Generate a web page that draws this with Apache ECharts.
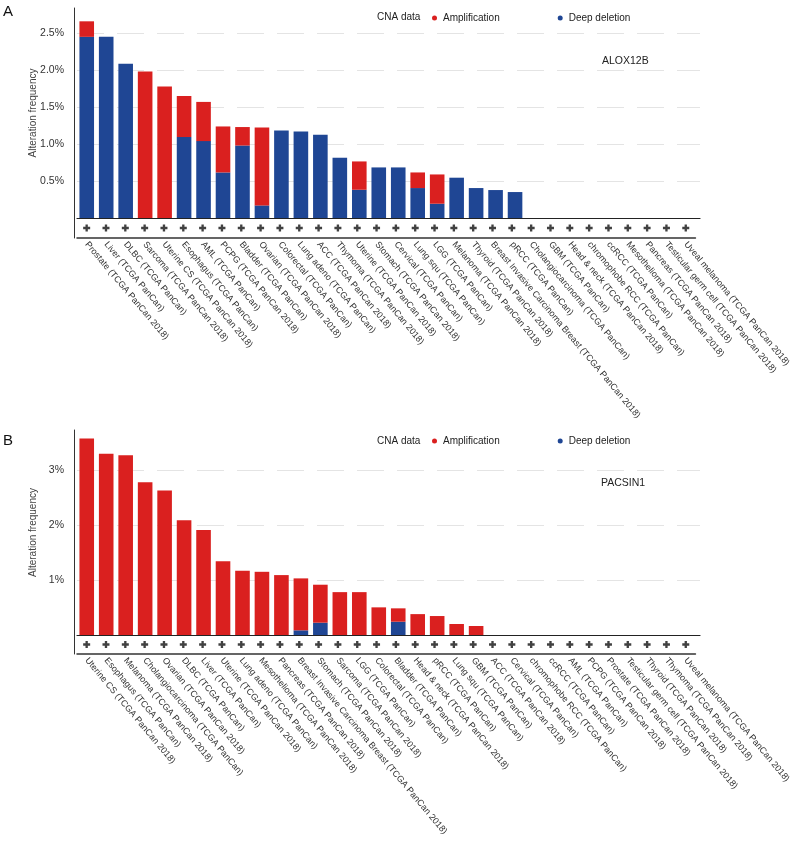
<!DOCTYPE html>
<html>
<head>
<meta charset="utf-8">
<script src="https://cdn.jsdelivr.net/npm/echarts@6/dist/echarts.min.js"></script>
<style>
html,body{margin:0;padding:0;background:#fff;}
#c{width:793px;height:841px;}
</style>
</head>
<body>
<div id="c"></div>
<script>
// ---- Panel A: ALOX12B ----
var catsA = ["Prostate (TCGA PanCan 2018)","Liver (TCGA PanCan)","DLBC (TCGA PanCan)","Sarcoma (TCGA PanCan 2018)","Uterine CS (TCGA PanCan 2018)","Esophagus (TCGA PanCan)","AML (TCGA PanCan)","PCPG (TCGA PanCan 2018)","Bladder (TCGA PanCan)","Ovarian (TCGA PanCan 2018)","Colorectal (TCGA PanCan)","Lung adeno (TCGA PanCan)","ACC (TCGA PanCan 2018)","Thymoma (TCGA PanCan 2018)","Uterine (TCGA PanCan 2018)","Stomach (TCGA PanCan 2018)","Cervical (TCGA PanCan)","Lung squ (TCGA PanCan)","LGG (TCGA PanCan)","Melanoma (TCGA PanCan 2018)","Thyroid (TCGA PanCan 2018)","Breast Invasive Carcinoma Breast (TCGA PanCan 2018)","pRCC (TCGA PanCan)","Cholangiocarcinoma (TCGA PanCan)","GBM (TCGA PanCan)","Head & neck (TCGA PanCan 2018)","chromophobe RCC (TCGA PanCan)","ccRCC (TCGA PanCan)","Mesothelioma (TCGA PanCan 2018)","Pancreas (TCGA PanCan 2018)","Testicular germ cell (TCGA PanCan 2018)","Uveal melanoma (TCGA PanCan 2018)"];
var delA = [2.45,2.45,2.085,0,0,1.095,1.04,0.616,0.98,0.17,1.184,1.17,1.126,0.815,0.382,0.684,0.684,0.405,0.193,0.545,0.405,0.378,0.351,0,0,0,0,0,0,0,0,0];
var ampA = [0.21,0,0,1.98,1.78,0.555,0.53,0.622,0.25,1.054,0,0,0,0,0.383,0,0,0.211,0.396,0,0,0,0,0,0,0,0,0,0,0,0,0];
var ticksA = [0.5,1.0,1.5,2.0,2.5];

// ---- Panel B: PACSIN1 ----
var catsB = ["Uterine CS (TCGA PanCan 2018)","Esophagus (TCGA PanCan)","Melanoma (TCGA PanCan 2018)","Cholangiocarcinoma (TCGA PanCan)","Ovarian (TCGA PanCan 2018)","DLBC (TCGA PanCan)","Liver (TCGA PanCan)","Uterine (TCGA PanCan 2018)","Lung adeno (TCGA PanCan)","Mesothelioma (TCGA PanCan 2018)","Pancreas (TCGA PanCan 2018)","Breast Invasive Carcinoma Breast (TCGA PanCan 2018)","Stomach (TCGA PanCan 2018)","Sarcoma (TCGA PanCan 2018)","LGG (TCGA PanCan)","Colorectal (TCGA PanCan)","Bladder (TCGA PanCan)","Head & neck (TCGA PanCan 2018)","pRCC (TCGA PanCan)","Lung squ (TCGA PanCan)","GBM (TCGA PanCan)","ACC (TCGA PanCan 2018)","Cervical (TCGA PanCan)","chromophobe RCC (TCGA PanCan)","ccRCC (TCGA PanCan)","AML (TCGA PanCan)","PCPG (TCGA PanCan 2018)","Prostate (TCGA PanCan 2018)","Testicular germ cell (TCGA PanCan 2018)","Thyroid (TCGA PanCan 2018)","Thymoma (TCGA PanCan 2018)","Uveal melanoma (TCGA PanCan 2018)"];
var delB = [0,0,0,0,0,0,0,0,0,0,0,0.085,0.224,0,0,0,0.242,0,0,0,0,0,0,0,0,0,0,0,0,0,0,0];
var ampB = [3.576,3.30,3.27,2.78,2.63,2.09,1.91,1.34,1.17,1.15,1.09,0.945,0.691,0.78,0.78,0.503,0.243,0.38,0.345,0.2,0.164,0,0,0,0,0,0,0,0,0,0,0];
var ticksB = [1,2,3];

// profiled-for-CNA indicator (every study profiled)
var profiledA = catsA.map(function(){return 1;});
var profiledB = catsB.map(function(){return 1;});

var RED = '#da201f', BLUE = '#1f4694';
var FONT = '"Liberation Sans", Arial, Helvetica, sans-serif';
var PLUS = 'path://M2,0H4V2H6V4H4V6H2V4H0V2H2Z';

function fmtA(v){ return ticksA.indexOf(+v.toFixed(2)) >= 0 ? v.toFixed(1) + '%' : ''; }
function fmtB(v){ return ticksB.indexOf(+v.toFixed(2)) >= 0 ? Math.round(v) + '%' : ''; }

var gridL = 77, gridW = 623;

function yMain(grid, max, interval, fmt){
  return {
    type:'value', gridIndex:grid, min:0, max:max, interval:interval, offset:3,
    name:'Alteration frequency', nameLocation:'middle', nameGap:36, nameMoveOverlap:false,
    nameTextStyle:{fontFamily:FONT, fontSize:10, color:'#444'},
    axisLine:{show:true, lineStyle:{color:'#333', width:1}},
    axisTick:{show:false},
    axisLabel:{formatter:fmt, fontFamily:FONT, fontSize:10.5, color:'#333', margin:10, showMinLabel:false, showMaxLabel:false},
    splitLine:{show:true, showMinLine:false, showMaxLine:false, lineStyle:{color:'#e4e4e4', type:[27,13], width:1}}
  };
}
function yBox(grid){
  return {type:'value', gridIndex:grid, min:0, max:1, offset:3,
    axisLine:{show:true, lineStyle:{color:'#333', width:1}},
    axisTick:{show:false}, axisLabel:{show:false}, splitLine:{show:false}};
}
function xMain(grid, cats){
  return {type:'category', gridIndex:grid, data:cats,
    axisLine:{show:true, lineStyle:{color:'#222', width:1.2}},
    axisTick:{show:false}, axisLabel:{show:false}, splitLine:{show:false}};
}
function xBox(grid, cats){
  return {type:'category', gridIndex:grid, data:cats, position:'bottom',
    axisLine:{show:true, lineStyle:{color:'#333', width:1.5}},
    axisTick:{show:false},
    axisLabel:{rotate:-50, interval:0, margin:5, fontFamily:FONT, fontSize:9, color:'#333'},
    splitLine:{show:false}};
}
function legend(top){
  return {top:top, left:427, itemWidth:5, itemHeight:5, itemGap:58, icon:'circle',
    textStyle:{fontFamily:FONT, fontSize:10, color:'#222', padding:[0,0,0,1]},
    data:['Amplification','Deep deletion'], selectedMode:false};
}

var option = {
  animation:false,
  backgroundColor:'#fff',
  grid:[
    {left:gridL, width:gridW, top:8, height:210},
    {left:gridL, width:gridW, top:218, height:20},
    {left:gridL, width:gridW, top:430, height:205},
    {left:gridL, width:gridW, top:635, height:19}
  ],
  legend:[legend(8), legend(431)],
  xAxis:[xMain(0,catsA), xBox(1,catsA), xMain(2,catsB), xBox(3,catsB)],
  yAxis:[yMain(0,2.84,0.5,fmtA), yBox(1), yMain(2,3.73,1,fmtB), yBox(3)],
  series:[
    {name:'Deep deletion', type:'bar', stack:'a', xAxisIndex:0, yAxisIndex:0, data:delA, barWidth:'75%', itemStyle:{color:BLUE}},
    {name:'Amplification', type:'bar', stack:'a', xAxisIndex:0, yAxisIndex:0, data:ampA, barWidth:'75%', itemStyle:{color:RED}},
    {name:'profiledA', type:'scatter', xAxisIndex:1, yAxisIndex:1, data:profiledA.map(function(p){return p*0.5;}), symbol:PLUS, symbolSize:7, itemStyle:{color:'#111'}, silent:true},
    {name:'Deep deletion', type:'bar', stack:'b', xAxisIndex:2, yAxisIndex:2, data:delB, barWidth:'75%', itemStyle:{color:BLUE}},
    {name:'Amplification', type:'bar', stack:'b', xAxisIndex:2, yAxisIndex:2, data:ampB, barWidth:'75%', itemStyle:{color:RED}},
    {name:'profiledB', type:'scatter', xAxisIndex:3, yAxisIndex:3, data:profiledB.map(function(p){return p*0.5;}), symbol:PLUS, symbolSize:7, itemStyle:{color:'#111'}, silent:true}
  ],
  graphic:[
    {type:'text', left:3, top:4, style:{text:'A', font:'15px ' + FONT, fill:'#111'}},
    {type:'text', left:3, top:433, style:{text:'B', font:'15px ' + FONT, fill:'#111'}},
    {type:'text', left:377, top:12.5, style:{text:'CNA data', font:'10px ' + FONT, fill:'#222'}},
    {type:'text', left:377, top:436, style:{text:'CNA data', font:'10px ' + FONT, fill:'#222'}},
    {type:'text', left:602, top:56, style:{text:'ALOX12B', font:'10.5px ' + FONT, fill:'#222'}},
    {type:'text', left:601, top:478, style:{text:'PACSIN1', font:'10.5px ' + FONT, fill:'#222'}}
  ]
};
var chart = echarts.init(document.getElementById('c'), null, {renderer:'canvas'});
chart.setOption(option);
</script>
</body>
</html>
